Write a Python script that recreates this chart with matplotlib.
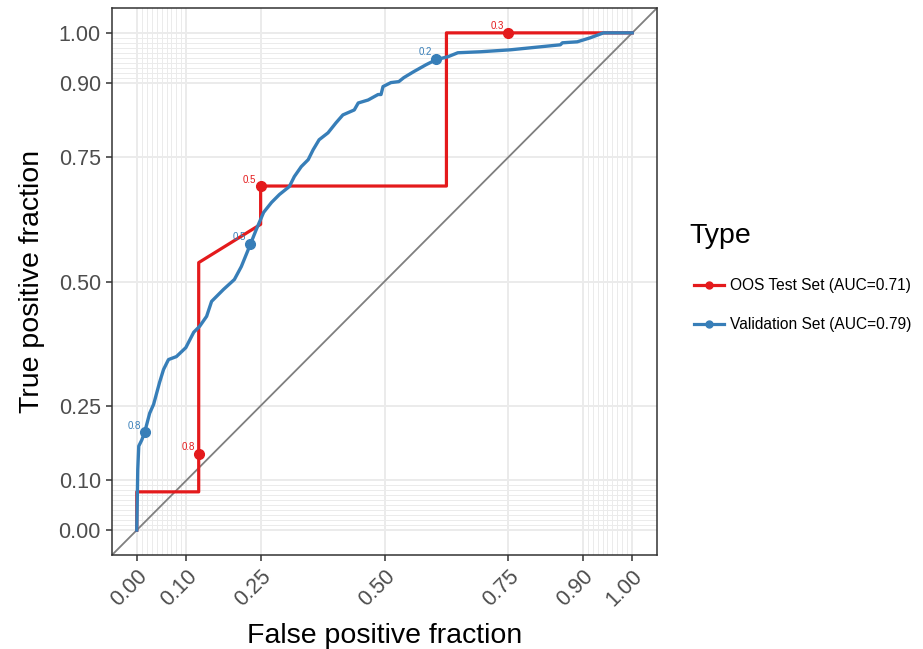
import matplotlib
matplotlib.use('Agg')
import matplotlib.pyplot as plt
from matplotlib.lines import Line2D
import numpy as np

plt.rcParams['font.family'] = ['Liberation Sans', 'DejaVu Sans']

# OOS test set ROC (step curve)
oos_fpr = [0, 0, 0.125, 0.125, 0.25, 0.25, 0.625, 0.625, 1.0]
oos_tpr = [0, 0.077, 0.077, 0.538, 0.615, 0.692, 0.692, 1.0, 1.0]
oos_cut_fpr = [0.125, 0.25, 0.75]
oos_cut_tpr = [0.154, 0.692, 1.0]
oos_cut_lab = ['0.8', '0.5', '0.3']

# validation set ROC
val_fpr = [0, 0.002, 0.004, 0.010, 0.016, 0.026, 0.034, 0.040, 0.046, 0.054,
           0.064, 0.080, 0.099, 0.115, 0.127, 0.141, 0.151, 0.175, 0.197, 0.211,
           0.229, 0.241, 0.256, 0.272, 0.288, 0.308, 0.318, 0.332, 0.346, 0.356,
           0.368, 0.386, 0.402, 0.416, 0.439, 0.447, 0.467, 0.487, 0.493, 0.497,
           0.513, 0.529, 0.539, 0.559, 0.584, 0.604, 0.628, 0.648, 0.694, 0.755,
           0.815, 0.855, 0.859, 0.889, 0.915, 0.942, 1.0]
val_tpr = [0, 0.122, 0.169, 0.181, 0.197, 0.235, 0.253, 0.275, 0.297, 0.323,
           0.343, 0.349, 0.367, 0.398, 0.410, 0.430, 0.460, 0.484, 0.504, 0.530,
           0.574, 0.604, 0.639, 0.659, 0.675, 0.691, 0.711, 0.731, 0.745, 0.765,
           0.785, 0.799, 0.819, 0.835, 0.845, 0.859, 0.865, 0.876, 0.876, 0.892,
           0.900, 0.902, 0.910, 0.922, 0.936, 0.946, 0.952, 0.960, 0.962, 0.966,
           0.972, 0.976, 0.980, 0.982, 0.990, 1.0, 1.0]
val_cut_fpr = [0.016, 0.229, 0.604]
val_cut_tpr = [0.197, 0.576, 0.948]
val_cut_lab = ['0.8', '0.5', '0.2']

labels = ['OOS Test Set (AUC=0.71)', 'Validation Set (AUC=0.79)']
colors = ['#E41A1C', '#377EB8']

breaks = [0, 0.1, 0.25, 0.5, 0.75, 0.9, 1]
break_labels = ['0.00', '0.10', '0.25', '0.50', '0.75', '0.90', '1.00']
minor = [round(v, 2) for v in list(np.arange(0, 0.101, 0.01)) + list(np.arange(0.9, 1.001, 0.01))]

fig = plt.figure(figsize=(9.23, 6.49), dpi=100)
ax = fig.add_axes([112/923, 1-555/649, 545/923, 547/649])

# grid
for v in minor:
    ax.axvline(v, color='#EBEBEB', lw=0.7, zorder=0)
    ax.axhline(v, color='#EBEBEB', lw=0.7, zorder=0)
for v in breaks:
    ax.axvline(v, color='#EBEBEB', lw=1.4, zorder=0)
    ax.axhline(v, color='#EBEBEB', lw=1.4, zorder=0)

ax.plot([-0.05, 1.05], [-0.05, 1.05], color='#7F7F7F', lw=1.3, zorder=1)

ax.plot(oos_fpr, oos_tpr, color=colors[0], lw=2.3, zorder=2)
ax.plot(oos_cut_fpr, oos_cut_tpr, 'o', color=colors[0], ms=7, zorder=3)
for x, y, t in zip(oos_cut_fpr, oos_cut_tpr, oos_cut_lab):
    ax.annotate(t, (x, y), xytext=(-3, 1), textcoords='offset points',
                ha='right', va='bottom', fontsize=7, color=colors[0])

ax.plot(val_fpr, val_tpr, color=colors[1], lw=2.4, zorder=4)
ax.plot(val_cut_fpr, val_cut_tpr, 'o', color=colors[1], ms=7, zorder=5)
for x, y, t in zip(val_cut_fpr, val_cut_tpr, val_cut_lab):
    ax.annotate(t, (x, y), xytext=(-3, 1), textcoords='offset points',
                ha='right', va='bottom', fontsize=7, color=colors[1])

ax.set_xlim(-0.05, 1.05)
ax.set_ylim(-0.05, 1.05)
ax.set_xticks(breaks)
ax.set_xticklabels(break_labels, rotation=45, ha='right', va='top', rotation_mode='anchor')
ax.set_yticks(breaks)
ax.set_yticklabels(break_labels)
ax.tick_params(axis='both', length=4.5, width=1.1, color='#333333', labelsize=15.5,
               labelcolor='#4D4D4D', pad=3.5)
for s in ax.spines.values():
    s.set_color('#333333')
    s.set_linewidth(1.1)

ax.set_xlabel('False positive fraction', fontsize=20.5, labelpad=9)
ax.set_ylabel('True positive fraction', fontsize=20.5, labelpad=10)

fig.text(689/923, 1-236/649, 'Type', fontsize=20.5, va='center', ha='left')
handles = [Line2D([], [], color=c, lw=2.3, marker='o', ms=5) for c in colors]
leg = fig.legend(handles, labels, loc='center left', bbox_to_anchor=(680/923, 1-305/649),
                 frameon=False, fontsize=11.2, handlelength=1.9, labelspacing=1.55,
                 handletextpad=0.4)

plt.savefig('out.png', dpi=100)
